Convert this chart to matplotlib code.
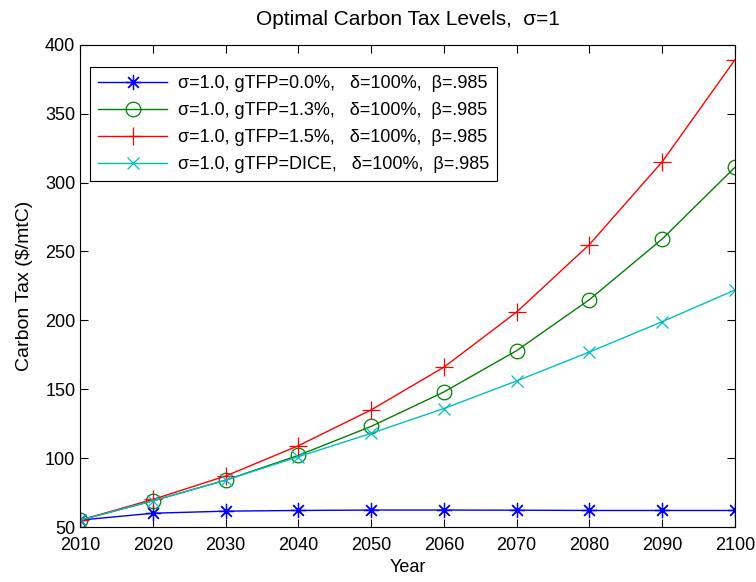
import numpy as np
import matplotlib
matplotlib.use('Agg')
import matplotlib.pyplot as plt

plt.rcParams['font.family'] = ['Liberation Sans', 'DejaVu Sans']

# data
years = [2010, 2020, 2030, 2040, 2050, 2060, 2070, 2080, 2090, 2100]
tax_g00 = [55, 60, 61.5, 62, 62.3, 62.3, 62.2, 62, 62, 62]
tax_g13 = [55, 69, 84, 102, 123, 148, 178, 215, 259, 311]
tax_g15 = [55, 70, 87, 109, 135, 166, 206, 255, 315, 389]
tax_dice = [55, 69, 84, 101, 118, 136, 156, 177, 199, 222]

labels = [
    'σ=1.0, gTFP=0.0%,   δ=100%,  β=.985',
    'σ=1.0, gTFP=1.3%,   δ=100%,  β=.985',
    'σ=1.0, gTFP=1.5%,   δ=100%,  β=.985',
    'σ=1.0, gTFP=DICE,   δ=100%,  β=.985',
]

fig = plt.figure(figsize=(7.56, 5.82), dpi=100)
ax = fig.add_axes([0.106, 0.0945, 0.866, 0.8285])

lw = 1.0
asterisk = (8, 2, 0)
ax.plot(years, tax_g00, color='#0000ff', marker=asterisk, ms=11, lw=lw, mew=0.9, label=labels[0])
ax.plot(years, tax_g13, color='#008000', marker='o', ms=10.5, mfc='none', lw=lw, mew=0.9, label=labels[1])
ax.plot(years, tax_g15, color='#ff0000', marker='+', ms=13, lw=lw, mew=0.9, label=labels[2])
ax.plot(years, tax_dice, color='#00bfbf', marker='x', ms=9, lw=lw, mew=0.9, label=labels[3])

ax.set_xlim(2010, 2100)
ax.set_ylim(50, 400)
ax.set_xticks(years)
ax.set_yticks(np.arange(50, 401, 50))
ax.tick_params(direction='in', top=True, right=True, labelsize=13, length=6)
ax.tick_params(axis='x', pad=7)
for s in ax.spines.values():
    s.set_linewidth(0.8)

ax.set_xlabel('Year', fontsize=13, labelpad=4)
ax.set_ylabel('Carbon Tax ($/mtC)', fontsize=14, labelpad=9)
ax.set_title('Optimal Carbon Tax Levels,  σ=1', fontsize=15, pad=14)

leg = ax.legend(loc='upper left', bbox_to_anchor=(0.0153, 0.954), borderaxespad=0,
                fontsize=13, fancybox=False, edgecolor='black',
                framealpha=1, handlelength=3.8,
                labelspacing=0.55, borderpad=0.45, handletextpad=0.6)
leg.get_frame().set_linewidth(0.8)

fig.savefig('out.png', dpi=100)
